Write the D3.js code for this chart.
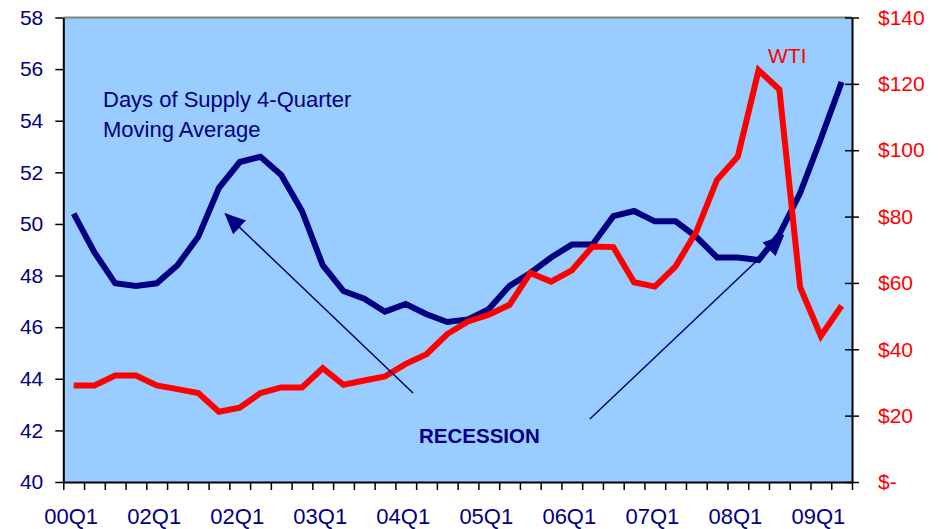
<!DOCTYPE html>
<html>
<head>
<meta charset="utf-8">
<script src="https://cdn.jsdelivr.net/npm/d3@7"></script>
<style>
  body { margin: 0; background: #fff; }
  svg { display: block; font-family: "Liberation Sans", Arial, sans-serif; }
</style>
</head>
<body>
<svg id="chart"></svg>
<script>
// quarters 00Q1 .. 09Q2
const quarters = [
  "00Q1","00Q2","00Q3","00Q4","01Q1","01Q2","01Q3","01Q4",
  "02Q1","02Q2","02Q3","02Q4","03Q1","03Q2","03Q3","03Q4",
  "04Q1","04Q2","04Q3","04Q4","05Q1","05Q2","05Q3","05Q4",
  "06Q1","06Q2","06Q3","06Q4","07Q1","07Q2","07Q3","07Q4",
  "08Q1","08Q2","08Q3","08Q4","09Q1","09Q2"
];
// labels as printed under the axis (every 4th quarter)
const xTickLabels = ["00Q1","02Q1","02Q1","03Q1","04Q1","05Q1","06Q1","07Q1","08Q1","09Q1"];
const leftTicks = [40, 42, 44, 46, 48, 50, 52, 54, 56, 58];
const rightTicks = [0, 20, 40, 60, 80, 100, 120, 140];

// days of supply, 4-quarter moving average (left axis)
const daysSupply = [
  50.4, 48.9, 47.7, 47.6, 47.7, 48.4, 49.5, 51.4, 52.4, 52.6,
  51.9, 50.5, 48.4, 47.4, 47.1, 46.6, 46.9, 46.5, 46.2, 46.3,
  46.7, 47.6, 48.1, 48.7, 49.2, 49.2, 50.3, 50.5, 50.1, 50.1,
  49.5, 48.7, 48.7, 48.6, 49.6, 51.2, 53.3, 55.5
];
// WTI price, $/bbl (right axis)
const wti = [
  29.1, 29.1, 32.1, 32.1, 29.1, 28.0, 26.8, 21.2, 22.4, 26.8,
  28.5, 28.5, 34.3, 29.3, 30.6, 31.8, 35.6, 38.5, 44.6, 48.4,
  50.4, 53.4, 63.0, 60.4, 63.8, 71.0, 70.8, 60.2, 58.9, 65.0,
  75.5, 91.1, 98.1, 124.1, 118.3, 58.7, 44.0, 53.1
];

const width = 938, height = 529;
const plotLeft = 63.3, plotRight = 852, plotTop = 17.5, plotBottom = 482;
const navy = "#000080", red = "#ff0000";

const svg = d3.select("#chart").attr("width", width).attr("height", height);

const x = d3.scaleLinear().domain([-0.5, quarters.length - 0.5]).range([plotLeft, plotRight]);
const yL = d3.scaleLinear().domain([40, 58]).range([plotBottom, plotTop]);
const yR = d3.scaleLinear().domain([0, 140]).range([plotBottom, plotTop]);

//plot background
svg.append("rect")
  .attr("x", plotLeft).attr("y", plotTop)
  .attr("width", plotRight - plotLeft).attr("height", plotBottom - plotTop)
  .attr("fill", "#99ccff");
svg.append("line")
  .attr("x1", plotLeft).attr("x2", plotRight).attr("y1", plotTop).attr("y2", plotTop)
  .attr("stroke", "#808080").attr("stroke-width", 2);

// left axis
const leftAxis = svg.append("g")
  .attr("transform", `translate(${plotLeft},0)`)
  .call(d3.axisLeft(yL).tickValues(leftTicks).tickSize(8).tickPadding(12).tickSizeOuter(0));
leftAxis.selectAll("text").attr("fill", navy).style("font-size", "21px");

// right axis (ticks cross the line)
const rightAxis = svg.append("g")
  .attr("transform", `translate(${plotRight},0)`)
  .call(d3.axisRight(yR).tickValues(rightTicks).tickSize(7).tickPadding(19).tickSizeOuter(0)
    .tickFormat(d => d === 0 ? "$-" : "$" + d));
rightAxis.selectAll(".tick line").attr("x1", -7);
rightAxis.selectAll("text").attr("fill", red).style("font-size", "21px");

// bottom axis: marks between quarters, labels every 4th quarter
svg.append("g")
  .attr("transform", `translate(0,${plotBottom})`)
  .call(d3.axisBottom(x).tickValues(d3.range(-0.5, quarters.length, 1)).tickSize(8).tickFormat("").tickSizeOuter(0));

const labelAxis = svg.append("g")
  .attr("transform", `translate(-3,${plotBottom})`)
  .call(d3.axisBottom(x).tickValues(xTickLabels.map((d, i) => i * 4)).tickSize(0).tickPadding(26)
    .tickFormat((d, i) => xTickLabels[i]));
labelAxis.select(".domain").remove();
labelAxis.selectAll("text").attr("fill", navy).style("font-size", "22px");

svg.selectAll(".domain").attr("stroke", "#000").attr("stroke-width", 2);
svg.selectAll(".tick line").attr("stroke", "#000").attr("stroke-width", 1.5);

// series
const blueLine = d3.line().x((d, i) => x(i)).y(d => yL(d));
const redLine = d3.line().x((d, i) => x(i)).y(d => yR(d));

svg.append("path")
  .datum(daysSupply)
  .attr("d", blueLine)
  .attr("fill", "none").attr("stroke", navy).attr("stroke-width", 6);

svg.append("path")
  .datum(wti)
  .attr("d", redLine)
  .attr("fill", "none").attr("stroke", red).attr("stroke-width", 6);

// recession arrows
svg.append("defs").append("marker")
  .attr("id", "head")
  .attr("markerUnits", "userSpaceOnUse")
  .attr("viewBox", "0 0 21 19")
  .attr("markerWidth", 21).attr("markerHeight", 19)
  .attr("refX", 20).attr("refY", 9.5)
  .attr("orient", "auto")
  .append("path")
  .attr("d", "M0,0 L21,9.5 L0,19 Z")
  .attr("fill", navy);

const arrows = [
  { from: [16.35, 43.45], to: [7.3, 50.4] },
  { from: [24.87, 42.44], to: [34.2, 49.55] }
];
svg.selectAll(".arrow")
  .data(arrows)
  .enter()
  .append("line")
    .attr("class", "arrow")
    .attr("x1", d => x(d.from[0])).attr("y1", d => yL(d.from[1]))
    .attr("x2", d => x(d.to[0])).attr("y2", d => yL(d.to[1]))
    .attr("stroke", navy).attr("stroke-width", 1.5)
    .attr("marker-end", "url(#head)");

// annotations
svg.append("text")
  .attr("x", 103).attr("y", 107)
  .attr("fill", navy).style("font-size", "22px")
  .text("Days of Supply 4-Quarter");
svg.append("text")
  .attr("x", 103).attr("y", 137)
  .attr("fill", navy).style("font-size", "22px")
  .text("Moving Average");
svg.append("text")
  .attr("x", 768).attr("y", 63)
  .attr("fill", red).style("font-size", "21px")
  .text("WTI");
svg.append("text")
  .attr("x", 419).attr("y", 443)
  .attr("fill", navy).style("font-size", "20.5px").style("font-weight", "bold")
  .text("RECESSION");
</script>
</body>
</html>
